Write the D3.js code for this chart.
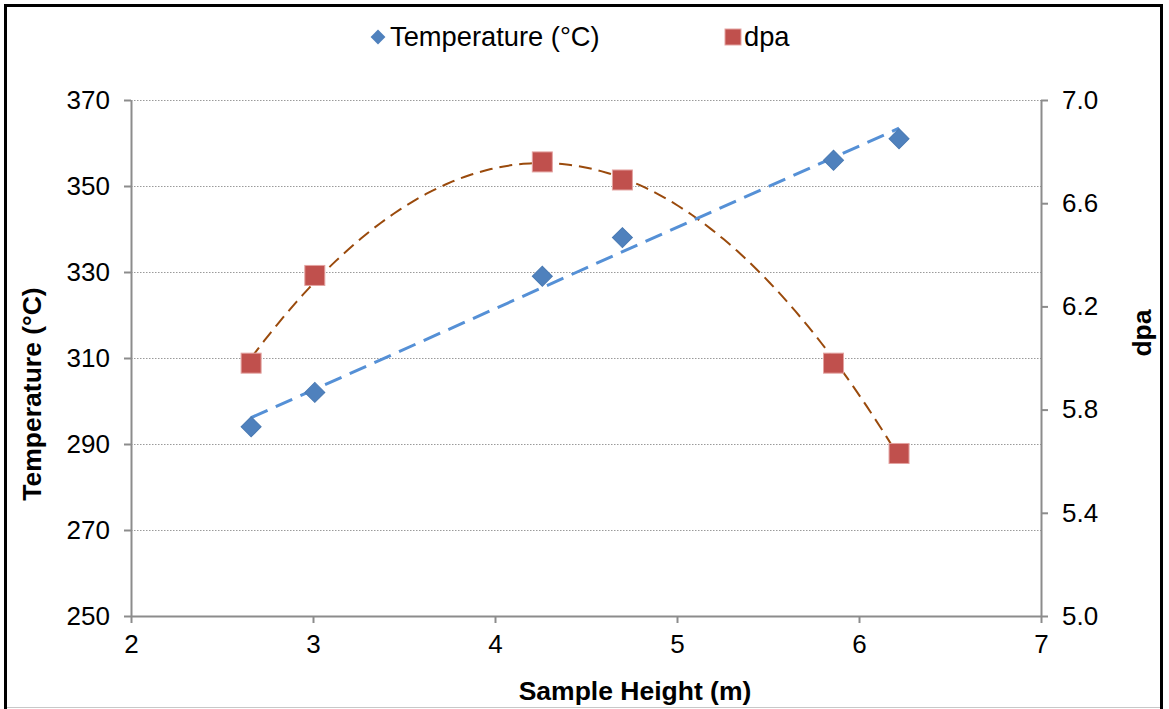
<!DOCTYPE html>
<html>
<head>
<meta charset="utf-8">
<script src="https://cdn.jsdelivr.net/npm/d3@7"></script>
<style>
  body { margin: 0; background: #fff; }
  svg { display: block; font-family: "Liberation Sans", Arial, sans-serif; }
</style>
</head>
<body>
<div id="chart"></div>
<script>
// values
let heights = [2.66, 3.01, 4.26, 4.70, 5.86, 6.22];
let temperature = [294, 302, 329, 338, 356, 361];
let dpa = [5.98, 6.32, 6.76, 6.69, 5.98, 5.63];
let xTicks = [2, 3, 4, 5, 6, 7];
let tempTicks = [250, 270, 290, 310, 330, 350, 370];
let dpaTicks = [5.0, 5.4, 5.8, 6.2, 6.6, 7.0];

let width = 1169;
let height = 709;
let margins = { top: 100, right: 128, bot: 93, left: 131 };
let chartWidth = width - margins.left - margins.right;
let chartHeight = height - margins.top - margins.bot;

let svg = d3.select("#chart").append("svg")
    .attr("width", width)
    .attr("height", height);

// outer frame
svg.append("rect")
    .attr("x", 5.5).attr("y", 5.5)
    .attr("width", 1156).attr("height", 712)
    .attr("fill", "none")
    .attr("stroke", "#000")
    .attr("stroke-width", 3);
svg.append("line")
    .attr("x1", 7).attr("x2", 1160)
    .attr("y1", 707.5).attr("y2", 707.5)
    .attr("stroke", "#c8c8c8");

let g = svg.append("g")
    .attr("transform", "translate(" + margins.left + "," + margins.top + ")");

let xScale = d3.scaleLinear().domain([2, 7]).range([0, chartWidth]);
let tScale = d3.scaleLinear().domain([250, 370]).range([chartHeight, 0]);
let dScale = d3.scaleLinear().domain([5.0, 7.0]).range([chartHeight, 0]);

// gridlines
g.append("g").selectAll("line")
    .data(tempTicks.filter(d => d != 250))
    .join("line")
    .attr("x1", 0).attr("x2", chartWidth)
    .attr("y1", d => Math.round(tScale(d)) + 0.5)
    .attr("y2", d => Math.round(tScale(d)) + 0.5)
    .attr("stroke", "#9a9a9a")
    .attr("stroke-dasharray", "1.5,1.5");

let axisColor = "#8c8c8c";
function styleAxis(sel) {
    sel.select(".domain").attr("stroke", axisColor).attr("stroke-width", 2);
    sel.selectAll(".tick line").attr("stroke", axisColor).attr("stroke-width", 2);
    sel.selectAll(".tick text")
        .attr("fill", "#000")
        .style("font-size", "26px")
        .style("font-family", "'Liberation Sans', Arial, sans-serif");
}

let xAxis = g.append("g")
    .attr("transform", "translate(0," + chartHeight + ")")
    .call(d3.axisBottom(xScale).tickValues(xTicks).tickSize(7).tickSizeOuter(0).tickPadding(12)
        .tickFormat(d3.format("d")));
styleAxis(xAxis);

let yAxis = g.append("g")
    .call(d3.axisLeft(tScale).tickValues(tempTicks).tickSize(7).tickSizeOuter(0).tickPadding(14)
        .tickFormat(d3.format("d")));
styleAxis(yAxis);

let y2Axis = g.append("g")
    .attr("transform", "translate(" + chartWidth + ",0)")
    .call(d3.axisRight(dScale).tickValues(dpaTicks).tickSize(7).tickSizeOuter(0).tickPadding(14)
        .tickFormat(d3.format(".1f")));
styleAxis(y2Axis);

// axis titles
svg.append("text")
    .attr("x", 635).attr("y", 700)
    .attr("text-anchor", "middle")
    .style("font-size", "26.5px").style("font-weight", "bold")
    .text("Sample Height (m)");
svg.append("text")
    .attr("transform", "translate(41,394) rotate(-90)")
    .attr("text-anchor", "middle")
    .style("font-size", "26.5px").style("font-weight", "bold")
    .text("Temperature (°C)");
svg.append("text")
    .attr("transform", "translate(1151,333) rotate(-90)")
    .attr("text-anchor", "middle")
    .style("font-size", "26.5px").style("font-weight", "bold")
    .text("dpa");

// trendlines: linear for temperature, 2nd order polynomial for dpa
function linearFit(xs, ys) {
    let mx = d3.mean(xs), my = d3.mean(ys);
    let sxy = 0, sxx = 0;
    xs.forEach(function (x, i) {
        sxy += (x - mx) * (ys[i] - my);
        sxx += (x - mx) * (x - mx);
    });
    let b = sxy / sxx;
    return x => my + b * (x - mx);
}

function quadFit(xs, ys) {
    // normal equations for y = a + b x + c x^2
    let s = [0, 0, 0, 0, 0], t = [0, 0, 0];
    xs.forEach(function (x, i) {
        for (let k = 0; k < 5; k++) s[k] += Math.pow(x, k);
        for (let k = 0; k < 3; k++) t[k] += ys[i] * Math.pow(x, k);
    });
    let m = [[s[0], s[1], s[2], t[0]], [s[1], s[2], s[3], t[1]], [s[2], s[3], s[4], t[2]]];
    for (let i = 0; i < 3; i++) {
        for (let j = i + 1; j < 3; j++) {
            let f = m[j][i] / m[i][i];
            for (let k = i; k < 4; k++) m[j][k] -= f * m[i][k];
        }
    }
    let c = [0, 0, 0];
    for (let i = 2; i >= 0; i--) {
        let v = m[i][3];
        for (let k = i + 1; k < 3; k++) v -= m[i][k] * c[k];
        c[i] = v / m[i][i];
    }
    return x => c[0] + c[1] * x + c[2] * x * x;
}

let tempFit = linearFit(heights, temperature);
let dpaFit = quadFit(heights, dpa);
let xMin = d3.min(heights), xMax = d3.max(heights);
let samples = d3.range(0, 101).map(i => xMin + (xMax - xMin) * i / 100);

g.append("path")
    .datum(samples)
    .attr("fill", "none")
    .attr("stroke", "#9a4a0c")
    .attr("stroke-width", 2)
    .attr("stroke-dasharray", "13,7")
    .attr("d", d3.line().x(d => xScale(d)).y(d => dScale(dpaFit(d))));

g.append("path")
    .datum([xMin, xMax])
    .attr("fill", "none")
    .attr("stroke", "#5590d6")
    .attr("stroke-width", 3)
    .attr("stroke-dasharray", "18,9")
    .attr("d", d3.line().x(d => xScale(d)).y(d => tScale(tempFit(d))));

// markers
let blue = "#4f81bd";
let red = "#c0504d";
let diamond = d3.symbol().type(d3.symbolSquare).size(200);

g.append("g").selectAll("path")
    .data(heights)
    .join("path")
    .attr("d", diamond)
    .attr("transform", (d, i) => "translate(" + xScale(d) + "," + tScale(temperature[i]) + ") rotate(45)")
    .attr("fill", blue)
    .attr("stroke", "#4a7ab3")
    .attr("stroke-width", 1);

g.append("g").selectAll("rect")
    .data(heights)
    .join("rect")
    .attr("x", d => xScale(d) - 10)
    .attr("y", (d, i) => dScale(dpa[i]) - 10)
    .attr("width", 20).attr("height", 20)
    .attr("fill", red)
    .attr("stroke", "#e3a3a1")
    .attr("stroke-width", 1);

// legend
let legend = svg.append("g");
legend.append("path")
    .attr("d", d3.symbol().type(d3.symbolSquare).size(110))
    .attr("transform", "translate(378,37) rotate(45)")
    .attr("fill", blue);
legend.append("text")
    .attr("x", 390).attr("y", 46)
    .style("font-size", "27.3px")
    .text("Temperature (°C)");
legend.append("rect")
    .attr("x", 725).attr("y", 29)
    .attr("width", 16).attr("height", 16)
    .attr("fill", red)
    .attr("stroke", "#e3a3a1");
legend.append("text")
    .attr("x", 744).attr("y", 46)
    .style("font-size", "27.3px")
    .text("dpa");
</script>
</body>
</html>
